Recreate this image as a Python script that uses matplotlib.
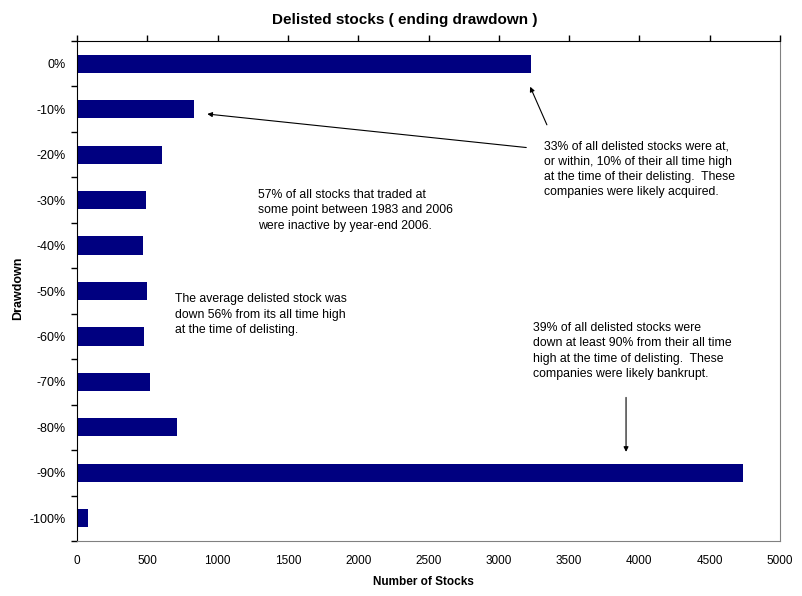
import matplotlib
matplotlib.use("Agg")
import matplotlib.pyplot as plt
from matplotlib.ticker import MultipleLocator

plt.rcParams['font.family'] = ['Liberation Sans', 'DejaVu Sans']

# drawdown buckets, top to bottom
drawdown_labels = ['0%', '-10%', '-20%', '-30%', '-40%', '-50%',
                   '-60%', '-70%', '-80%', '-90%', '-100%']
num_stocks = [3230, 832, 605, 490, 470, 498, 477, 519, 711, 4737, 78]

x_ticks = [0, 500, 1000, 1500, 2000, 2500, 3000, 3500, 4000, 4500, 5000]

note_acquired = ("33% of all delisted stocks were at,\n"
                 "or within, 10% of their all time high\n"
                 "at the time of their delisting.  These\n"
                 "companies were likely acquired.")
note_inactive = ("57% of all stocks that traded at\n"
                 "some point between 1983 and 2006\n"
                 "were inactive by year-end 2006.")
note_average = ("The average delisted stock was\n"
                "down 56% from its all time high\n"
                "at the time of delisting.")
note_bankrupt = ("39% of all delisted stocks were\n"
                 "down at least 90% from their all time\n"
                 "high at the time of delisting.  These\n"
                 "companies were likely bankrupt.")

fig = plt.figure(figsize=(8.02, 5.96), dpi=100)
ax = fig.add_axes([77 / 802, 1 - 541 / 596, 703 / 802, 500 / 596])

pos = list(range(len(drawdown_labels)))
ax.barh(pos, num_stocks, height=0.4, color='#000080')

ax.set_xlim(0, 5000)
ax.set_ylim(len(pos) - 0.5, -0.5)
ax.set_xticks(x_ticks)
ax.set_xticklabels([str(t) for t in x_ticks], fontsize=8.5)
ax.tick_params(axis='x', top=True, bottom=False, labelbottom=True,
               direction='out', length=4, width=1, pad=6)

ax.set_yticks(pos)
ax.set_yticklabels(drawdown_labels, fontsize=9)
ax.yaxis.set_minor_locator(MultipleLocator(1, offset=0.5))
ax.tick_params(axis='y', which='major', length=0, pad=8)
ax.tick_params(axis='y', which='minor', length=4, width=1, direction='out')

for side in ['top', 'left']:
    ax.spines[side].set_color('black')
for side in ['right', 'bottom']:
    ax.spines[side].set_color('#808080')

fig.text(405 / 802, 1 - 20 / 596, 'Delisted stocks ( ending drawdown )',
         ha='center', va='center', fontsize=11, fontweight='bold')
fig.text(423 / 802, 1 - 582 / 596, 'Number of Stocks',
         ha='center', va='center', fontsize=8.5, fontweight='bold')
fig.text(18 / 802, 1 - 288 / 596, 'Drawdown', rotation=90,
         ha='center', va='center', fontsize=9, fontweight='bold')

arrow = dict(arrowstyle='-|>', color='black', lw=0.8, mutation_scale=7)

# arrows toward the 0% and -10% bars
ax.annotate('', xy=(num_stocks[1] + 75, 1.1), xytext=(3215, 1.85),
            arrowprops=arrow)
ax.annotate('', xy=(num_stocks[0] - 15, 0.45), xytext=(3350, 1.4),
            arrowprops=arrow)
# arrow toward the -90% bar
ax.annotate('', xy=(3905, 8.6), xytext=(3905, 7.28), arrowprops=arrow)

ax.text(3320, 1.68, note_acquired, ha='left', va='top', fontsize=8.8,
        linespacing=1.38)
ax.text(1290, 2.75, note_inactive, ha='left', va='top', fontsize=8.8,
        linespacing=1.38)
ax.text(695, 5.05, note_average, ha='left', va='top', fontsize=8.8,
        linespacing=1.38)
ax.text(3245, 5.68, note_bankrupt, ha='left', va='top', fontsize=8.8,
        linespacing=1.38)

fig.savefig('out.png', dpi=100)
